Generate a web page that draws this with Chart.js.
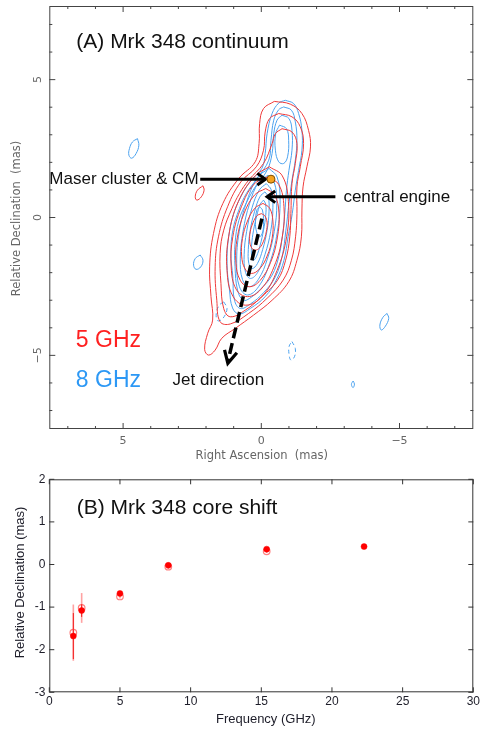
<!DOCTYPE html>
<html><head><meta charset="utf-8">
<script src="https://cdn.jsdelivr.net/npm/chart.js@4.4.1/dist/chart.umd.min.js"></script>
<style>
html,body{margin:0;padding:0;background:#fff;}
#wrap{position:relative;width:480px;height:733px;overflow:hidden;}
.box{position:absolute;left:0;width:480px;}
</style></head><body>
<div id="wrap">
<div class="box" style="top:0;height:468px"><canvas id="c1"></canvas></div>
<div class="box" style="top:468px;height:265px"><canvas id="c2"></canvas></div>
</div>
<script>
// ---------------- Panel A: contour map (RA, Dec in mas) ----------------
const raMajorTicks = [5, 0, -5];
const raMajorLabels = ['5', '0', '\u22125'];
const raMinorTicks = [7, 6, 4, 3, 2, 1, -1, -2, -3, -4, -6, -7];
const decMajorTicks = [5, 0, -5];
const decMajorLabels = ['5', '0', '\u22125'];
const decMinorTicks = [7, 6, 4, 3, 2, 1, -1, -2, -3, -4, -6, -7];

// 5 GHz contours (red), outer to inner
const c5_1 = [[-0.47,4.21],[-1.05,4.11],[-1.47,3.77],[-1.71,3.16],[-1.78,2.56],[-1.65,1.84],[-1.51,1.11],[-1.47,0.27],[-1.45,-0.70],[-1.29,-1.55],[-0.99,-2.33],[-0.39,-3.00],[0.28,-3.54],[0.94,-4.02],[1.43,-4.38],[1.67,-4.81],[1.91,-4.99],[2.05,-4.78],[1.94,-4.20],[1.76,-3.72],[1.82,-2.87],[1.87,-1.79],[1.73,-0.58],[1.39,0.51],[0.82,1.41],[0.22,2.02],[0.08,2.68],[0.06,3.41],[-0.08,3.95]];
const c5_2 = [[-0.63,3.77],[-1.11,3.65],[-1.41,3.29],[-1.53,2.68],[-1.41,1.84],[-1.29,1.11],[-1.29,0.14],[-1.24,-0.70],[-1.09,-1.55],[-0.79,-2.27],[-0.21,-2.93],[0.46,-3.48],[1.12,-3.86],[1.49,-3.78],[1.61,-3.00],[1.67,-1.79],[1.55,-0.70],[1.22,0.39],[0.74,1.29],[0.18,1.84],[-0.08,2.44],[-0.14,3.10],[-0.30,3.59]];
const c5_3 = [[-0.75,3.22],[-1.11,3.10],[-1.29,2.68],[-1.23,1.96],[-1.11,1.23],[-1.07,0.14],[-1.03,-0.70],[-0.88,-1.55],[-0.59,-2.27],[-0.02,-2.87],[0.58,-3.36],[1.12,-3.60],[1.36,-3.30],[1.46,-2.39],[1.49,-1.30],[1.36,-0.46],[1.06,0.33],[0.79,0.87],[0.46,1.35],[-0.08,1.96],[-0.39,2.68],[-0.51,3.04]];
const c5_4 = [[-0.29,1.84],[-0.76,1.51],[-0.98,0.58],[-0.92,-0.68],[-0.57,-1.92],[-0.04,-2.85],[0.56,-3.18],[1.03,-2.85],[1.24,-1.92],[1.18,-0.68],[0.83,0.58],[0.22,1.51]];
const c5_5 = [[-0.23,1.47],[-0.63,1.20],[-0.82,0.39],[-0.76,-0.70],[-0.46,-1.79],[0.01,-2.60],[0.50,-2.87],[0.91,-2.60],[1.09,-1.79],[1.03,-0.70],[0.72,0.39],[0.27,1.20]];
const c5_6 = [[-0.16,1.05],[-0.48,0.82],[-0.64,0.16],[-0.58,-0.74],[-0.34,-1.62],[0.04,-2.28],[0.43,-2.51],[0.76,-2.28],[0.92,-1.62],[0.87,-0.74],[0.62,0.16],[0.24,0.82]];
const c5_7 = [[-0.06,0.51],[-0.30,0.34],[-0.42,-0.13],[-0.39,-0.76],[-0.21,-1.40],[0.06,-1.86],[0.36,-2.03],[0.59,-1.86],[0.71,-1.40],[0.68,-0.76],[0.50,-0.13],[0.23,0.34]];
const c5_8 = [[0.00,0.14],[-0.13,0.06],[-0.21,-0.19],[-0.18,-0.52],[-0.08,-0.86],[0.06,-1.10],[0.22,-1.18],[0.35,-1.10],[0.42,-0.86],[0.40,-0.52],[0.30,-0.19],[0.16,0.06]];
const c5_isl = [[2.11,1.15],[2.07,0.99],[2.17,0.75],[2.33,0.63],[2.39,0.75],[2.31,0.99]];

// 8 GHz contours (blue), outer to inner
const c8_1 = [[-0.87,4.25],[-1.17,4.13],[-1.35,3.77],[-1.47,3.16],[-1.47,2.44],[-1.35,1.71],[-1.23,0.99],[-1.12,0.14],[-0.97,-0.70],[-0.82,-1.55],[-0.54,-2.27],[-0.14,-2.87],[0.40,-3.30],[0.80,-3.50],[1.04,-3.28],[1.15,-2.63],[1.24,-1.67],[1.18,-0.70],[1.00,0.14],[0.74,0.75],[0.42,1.29],[-0.02,1.78],[-0.14,2.32],[-0.21,3.04],[-0.39,3.77],[-0.63,4.15]];
const c8_2 = [[-0.81,4.01],[-1.09,3.89],[-1.23,3.47],[-1.29,2.80],[-1.23,2.08],[-1.11,1.35],[-1.00,0.51],[-0.89,-0.46],[-0.75,-1.43],[-0.51,-2.15],[-0.08,-2.73],[0.40,-3.14],[0.76,-3.30],[0.97,-3.00],[1.03,-2.15],[1.10,-1.30],[1.03,-0.46],[0.79,0.33],[0.54,0.87],[0.16,1.41],[-0.27,2.08],[-0.35,2.80],[-0.45,3.53],[-0.63,3.91]];
const c8_3 = [[-0.75,3.71],[-1.00,3.59],[-1.11,3.16],[-1.11,2.44],[-1.00,1.71],[-0.91,0.99],[-0.85,0.14],[-0.76,-0.70],[-0.63,-1.43],[-0.39,-2.09],[0.00,-2.57],[0.42,-2.93],[0.66,-3.00],[0.86,-2.63],[0.95,-1.79],[0.95,-0.94],[0.81,-0.10],[0.52,0.57],[0.22,1.11],[-0.21,1.71],[-0.39,2.32],[-0.45,3.04],[-0.57,3.53]];
const c8_4n = [[-0.66,3.35],[-0.91,3.22],[-0.99,2.80],[-0.95,2.20],[-0.81,1.96],[-0.63,2.02],[-0.51,2.44],[-0.52,3.04]];
const c8_4 = [[-0.28,1.78],[-0.57,1.47],[-0.68,0.63],[-0.58,-0.52],[-0.30,-1.67],[0.10,-2.51],[0.50,-2.81],[0.79,-2.51],[0.89,-1.67],[0.80,-0.52],[0.51,0.63],[0.12,1.47]];
const c8_5 = [[-0.24,1.53],[-0.47,1.27],[-0.56,0.52],[-0.47,-0.50],[-0.22,-1.50],[0.11,-2.25],[0.43,-2.51],[0.68,-2.25],[0.76,-1.50],[0.66,-0.50],[0.42,0.52],[0.10,1.27]];
const c8_6 = [[-0.18,1.23],[-0.36,1.00],[-0.42,0.37],[-0.34,-0.50],[-0.13,-1.35],[0.13,-1.99],[0.39,-2.21],[0.57,-1.99],[0.62,-1.35],[0.53,-0.50],[0.33,0.37],[0.07,1.00]];
const c8_7 = [[-0.13,0.93],[-0.25,0.75],[-0.28,0.23],[-0.21,-0.46],[-0.05,-1.16],[0.14,-1.67],[0.33,-1.85],[0.45,-1.67],[0.47,-1.16],[0.40,-0.46],[0.24,0.23],[0.05,0.75]];
const c8_8 = [[-0.08,0.63],[-0.16,0.48],[-0.16,0.08],[-0.08,-0.46],[0.04,-1.00],[0.17,-1.40],[0.28,-1.55],[0.35,-1.40],[0.35,-1.00],[0.28,-0.46],[0.16,0.08],[0.04,0.48]];
const c8_9 = [[0.06,0.39],[-0.04,0.27],[-0.08,-0.16],[-0.05,-0.52],[0.06,-0.70],[0.17,-0.52],[0.21,-0.16],[0.16,0.27]];
const c8_islA = [[4.48,2.86],[4.43,2.62],[4.53,2.32],[4.69,2.15],[4.79,2.26],[4.77,2.50],[4.66,2.74]];
const c8_islB = [[2.21,-1.36],[2.11,-1.55],[2.19,-1.79],[2.36,-1.88],[2.45,-1.73],[2.39,-1.49]];
const c8_islC = [[-4.55,-3.48],[-4.61,-3.66],[-4.49,-3.94],[-4.34,-4.08],[-4.29,-3.90],[-4.40,-3.62]];
const c8_islD = [[-3.32,-5.93],[-3.37,-6.04],[-3.32,-6.17],[-3.26,-6.05]];
// negative 8 GHz contours (dashed)
const c8_negA = [[-1.11,-4.50],[-1.23,-4.75],[-1.20,-5.05],[-1.07,-5.17],[-1.00,-4.93],[-1.01,-4.66]];
const c8_negB = [[1.36,-3.06],[1.24,-3.30],[1.39,-3.66],[1.58,-3.74],[1.63,-3.48],[1.52,-3.18]];

const contours5GHz = [c5_1, c5_2, c5_3, c5_4, c5_5, c5_6, c5_7, c5_8, c5_isl];
const contours8GHz = [c8_1, c8_2, c8_3, c8_4n, c8_4, c8_5, c8_6, c8_7, c8_8, c8_9, c8_islA, c8_islB, c8_islC, c8_islD];
const contours8GHzNeg = [c8_negA, c8_negB];

// annotation anchors (data units, mas)
const maserPos = [-0.35, 1.39];
const maserArrow = [[2.21, 1.39], [-0.15, 1.39]];
const engineArrow = [[-2.68, 0.75], [-0.21, 0.75]];
const jetArrow = [[-0.02, -0.04], [1.21, -5.29]];

// ---------------- Panel B: core shift ----------------
const freqGHz = [1.70, 2.29, 5.00, 8.42, 15.38, 22.27];
const decFilled = [-1.68, -1.08, -0.68, -0.02, 0.36, 0.42];
const errFilled = [0.54, 0.15, 0.04, 0.04, 0.03, 0.03];
const freqOpen = [1.70, 2.29, 5.00, 8.42, 15.38];
const decOpen = [-1.60, -1.02, -0.75, -0.05, 0.31];
const errOpen = [0.66, 0.35, 0.05, 0.05, 0.04];
const freqTicks = [0, 5, 10, 15, 20, 25, 30];
const freqTickLabels = ['0', '5', '10', '15', '20', '25', '30'];
const shiftTicks = [-3, -2, -1, 0, 1, 2];
const shiftTickLabels = ['-3', '-2', '-1', '0', '1', '2'];

// ---------------- helpers ----------------
const RED = '#ef3a3a';
const BLUE = '#4ba2ef';
const SANS = '"Liberation Sans", Arial, Helvetica, sans-serif';
const DJV = '"DejaVu Sans", sans-serif';

function closed(pts) {
  const d = pts.map(p => ({x: p[0], y: p[1]}));
  d.push({x: pts[0][0], y: pts[0][1]});
  return d;
}
function seg(ctx, x0, y0, x1, y1) { ctx.beginPath(); ctx.moveTo(x0, y0); ctx.lineTo(x1, y1); ctx.stroke(); }
function head(ctx, x0, y0, x1, y1, len, ang) {
  const a = Math.atan2(y1 - y0, x1 - x0);
  ctx.beginPath();
  ctx.moveTo(x1 - len * Math.cos(a - ang), y1 - len * Math.sin(a - ang));
  ctx.lineTo(x1, y1);
  ctx.lineTo(x1 - len * Math.cos(a + ang), y1 - len * Math.sin(a + ang));
  ctx.stroke();
}
function frameTicks(ctx, a, xs, ys, xVals, yVals, len) {
  xVals.forEach(v => { const p = xs.getPixelForValue(v); seg(ctx, p, a.bottom, p, a.bottom - len); seg(ctx, p, a.top, p, a.top + len); });
  yVals.forEach(v => { const p = ys.getPixelForValue(v); seg(ctx, a.left, p, a.left + len, p); seg(ctx, a.right, p, a.right - len, p); });
}

// ---------------- chart A ----------------
const datasetsA = [];
contours5GHz.forEach(c => datasetsA.push({data: closed(c), borderColor: RED, borderWidth: 1, showLine: true, pointRadius: 0, tension: 0.4, fill: false}));
contours8GHz.forEach(c => datasetsA.push({data: closed(c), borderColor: BLUE, borderWidth: 1, showLine: true, pointRadius: 0, tension: 0.4, fill: false}));
contours8GHzNeg.forEach(c => datasetsA.push({data: closed(c), borderColor: BLUE, borderWidth: 1, borderDash: [4, 3], showLine: true, pointRadius: 0, tension: 0.4, fill: false}));

const decorA = {
  id: 'decorA',
  afterDatasetsDraw(chart) {
    const {ctx, chartArea: a, scales: {x, y}} = chart;
    ctx.save();
    ctx.strokeStyle = '#444'; ctx.lineWidth = 1;
    ctx.strokeRect(a.left + 0.5, a.top + 0.5, a.width - 1, a.height - 1);
    frameTicks(ctx, a, x, y, raMajorTicks, decMajorTicks, 6);
    frameTicks(ctx, a, x, y, raMinorTicks, decMinorTicks, 3);
    // tick labels
    ctx.fillStyle = '#666'; ctx.font = '11px ' + DJV; ctx.textAlign = 'center'; ctx.textBaseline = 'middle';
    raMajorTicks.forEach((v, i) => ctx.fillText(raMajorLabels[i], x.getPixelForValue(v), a.bottom + 12));
    decMajorTicks.forEach((v, i) => {
      ctx.save(); ctx.translate(a.left - 11, y.getPixelForValue(v)); ctx.rotate(-Math.PI / 2);
      ctx.fillText(decMajorLabels[i], 0, 0); ctx.restore();
    });
    ctx.font = '11.5px ' + DJV;
    ctx.fillText('Right Ascension  (mas)', (a.left + a.right) / 2 + 0.5, a.bottom + 27);
    ctx.save(); ctx.translate(17, (a.top + a.bottom) / 2 + 1); ctx.rotate(-Math.PI / 2);
    ctx.fillText('Relative Declination  (mas)', 0, 0); ctx.restore();

    // arrows
    ctx.strokeStyle = '#000'; ctx.lineWidth = 3; ctx.lineCap = 'butt'; ctx.lineJoin = 'miter';
    [maserArrow, engineArrow].forEach(ar => {
      const x0 = x.getPixelForValue(ar[0][0]), y0 = y.getPixelForValue(ar[0][1]);
      const x1 = x.getPixelForValue(ar[1][0]), y1 = y.getPixelForValue(ar[1][1]);
      seg(ctx, x0, y0, x1 - Math.sign(x1 - x0) * 2, y1);
      head(ctx, x0, y0, x1, y1, 10, 0.62);
    });
    {
      const x0 = x.getPixelForValue(jetArrow[0][0]), y0 = y.getPixelForValue(jetArrow[0][1]);
      const x1 = x.getPixelForValue(jetArrow[1][0]), y1 = y.getPixelForValue(jetArrow[1][1]);
      ctx.save(); ctx.setLineDash([11, 5]); ctx.lineWidth = 3.5;
      seg(ctx, x0, y0, x1, y1 - 2); ctx.restore();
      ctx.lineWidth = 3.2;
      head(ctx, x0, y0, x1, y1, 14, 0.47);
    }
    // maser dot
    ctx.beginPath();
    ctx.arc(x.getPixelForValue(maserPos[0]), y.getPixelForValue(maserPos[1]), 4, 0, 2 * Math.PI);
    ctx.fillStyle = '#f5a21e'; ctx.fill(); ctx.lineWidth = 1; ctx.strokeStyle = '#7a4d05'; ctx.stroke();

    // texts
    ctx.fillStyle = '#111'; ctx.textBaseline = 'middle';
    ctx.font = '21px ' + SANS; ctx.textAlign = 'left';
    ctx.fillText('(A) Mrk 348 continuum', a.left + 27, a.top + 36);
    ctx.font = '17px ' + SANS;
    ctx.textAlign = 'right';
    ctx.fillText('Maser cluster & CM', x.getPixelForValue(2.27), y.getPixelForValue(maserPos[1]));
    ctx.textAlign = 'left';
    ctx.fillText('central engine', x.getPixelForValue(-2.97), y.getPixelForValue(engineArrow[0][1]));
    ctx.fillText('Jet direction', x.getPixelForValue(3.21), y.getPixelForValue(-5.9));
    ctx.font = '23px ' + SANS;
    ctx.fillStyle = '#ff2020';
    ctx.fillText('5 GHz', x.getPixelForValue(6.71), y.getPixelForValue(-4.45));
    ctx.fillStyle = '#2c98f5';
    ctx.fillText('8 GHz', x.getPixelForValue(6.71), y.getPixelForValue(-5.93));
    ctx.restore();
  }
};

new Chart(document.getElementById('c1'), {
  type: 'scatter',
  data: {datasets: datasetsA},
  options: {
    responsive: true, maintainAspectRatio: false, animation: false, events: [],
    layout: {padding: {left: 49.3, right: 6.7, top: 6, bottom: 39}},
    plugins: {legend: {display: false}, tooltip: {enabled: false}},
    scales: {
      x: {type: 'linear', min: -7.67, max: 7.67, reverse: true, display: false},
      y: {type: 'linear', min: -7.67, max: 7.67, display: false}
    }
  },
  plugins: [decorA]
});

// ---------------- chart B ----------------
const decorB = {
  id: 'decorB',
  beforeDatasetsDraw(chart) {
    const {ctx, scales: {x, y}} = chart;
    ctx.save(); ctx.lineCap = 'butt';
    ctx.strokeStyle = 'rgba(255,70,70,0.5)'; ctx.lineWidth = 1.6;
    freqOpen.forEach((f, i) => { const px = x.getPixelForValue(f); seg(ctx, px, y.getPixelForValue(decOpen[i] + errOpen[i]), px, y.getPixelForValue(decOpen[i] - errOpen[i])); });
    ctx.strokeStyle = 'rgba(240,0,0,0.85)'; ctx.lineWidth = 1;
    freqGHz.forEach((f, i) => { const px = x.getPixelForValue(f); seg(ctx, px, y.getPixelForValue(decFilled[i] + errFilled[i]), px, y.getPixelForValue(decFilled[i] - errFilled[i])); });
    ctx.restore();
  },
  afterDatasetsDraw(chart) {
    const {ctx, chartArea: a, scales: {x, y}} = chart;
    ctx.save();
    ctx.strokeStyle = '#333'; ctx.lineWidth = 1;
    ctx.strokeRect(a.left + 0.5, a.top + 0.5, a.width - 1, a.height - 1);
    frameTicks(ctx, a, x, y, freqTicks, shiftTicks, 5);
    ctx.fillStyle = '#1e1e2a'; ctx.font = '12px ' + SANS;
    ctx.textAlign = 'right'; ctx.textBaseline = 'middle';
    shiftTicks.forEach((v, i) => ctx.fillText(shiftTickLabels[i], a.left - 4, y.getPixelForValue(v)));
    ctx.textAlign = 'center';
    freqTicks.forEach((v, i) => ctx.fillText(freqTickLabels[i], x.getPixelForValue(v), a.bottom + 9));
    ctx.font = '13px ' + SANS;
    ctx.fillText('Frequency (GHz)', (a.left + a.right) / 2 + 4.5, a.bottom + 27);
    ctx.save(); ctx.translate(20, (a.top + a.bottom) / 2 - 3.3); ctx.rotate(-Math.PI / 2);
    ctx.fillText('Relative Declination (mas)', 0, 0); ctx.restore();
    ctx.font = '21px ' + SANS; ctx.textAlign = 'left'; ctx.fillStyle = '#111';
    ctx.fillText('(B) Mrk 348 core shift', a.left + 27.4, a.top + 29);
    ctx.restore();
  }
};

new Chart(document.getElementById('c2'), {
  type: 'scatter',
  data: {datasets: [
    {data: freqGHz.map((f, i) => ({x: f, y: decFilled[i]})), pointRadius: 3, pointBackgroundColor: '#ff0000', pointBorderColor: '#ff0000', pointBorderWidth: 0.5},
    {data: freqOpen.map((f, i) => ({x: f, y: decOpen[i]})), pointRadius: 3.3, pointBackgroundColor: 'rgba(255,255,255,0)', pointBorderColor: 'rgba(255,60,60,0.65)', pointBorderWidth: 1.2}
  ]},
  options: {
    responsive: true, maintainAspectRatio: false, animation: false, events: [],
    layout: {padding: {left: 49.3, right: 6.7, top: 11.3, bottom: 40.7}},
    plugins: {legend: {display: false}, tooltip: {enabled: false}},
    scales: {
      x: {type: 'linear', min: 0, max: 30, display: false},
      y: {type: 'linear', min: -3, max: 2, display: false}
    }
  },
  plugins: [decorB]
});
</script>
</body></html>
